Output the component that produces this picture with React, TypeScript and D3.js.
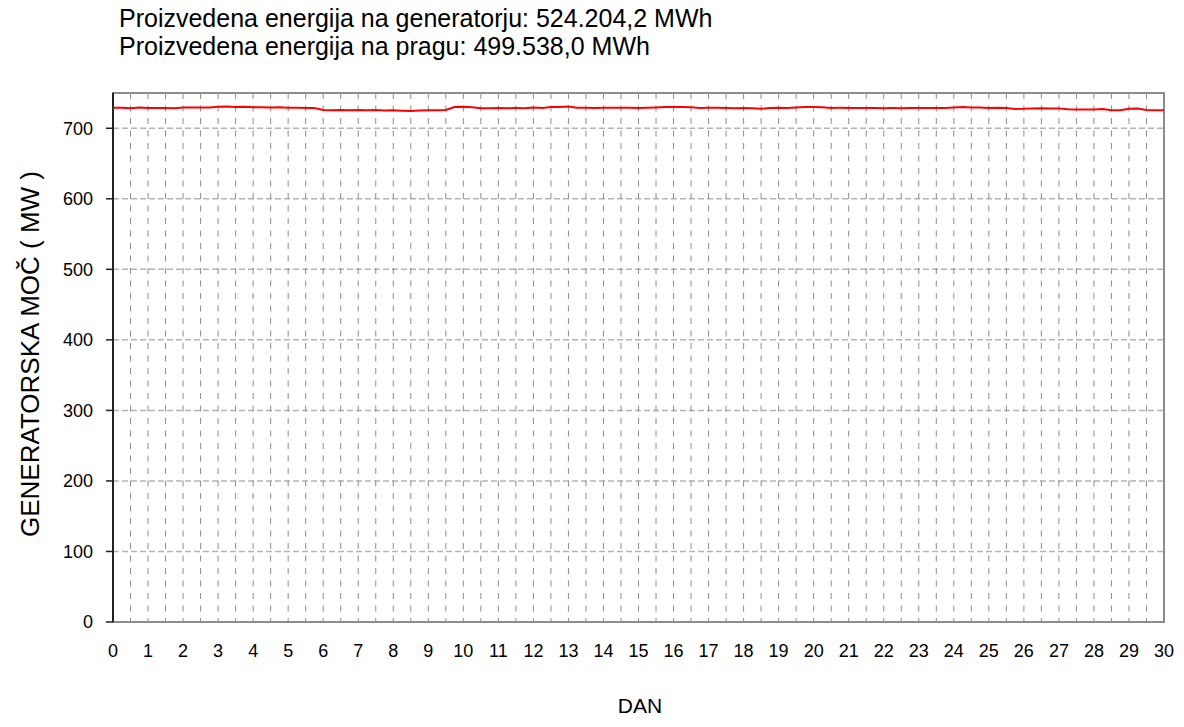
import React, { useEffect, useRef } from 'react'
import * as d3 from 'd3'

// text
const titleLines = [
  'Proizvedena energija na generatorju: 524.204,2 MWh',
  'Proizvedena energija na pragu: 499.538,0 MWh',
]
const yTitle = 'GENERATORSKA MOČ ( MW )'
const xTitle = 'DAN'

// axes
const yTicks = [0, 100, 200, 300, 400, 500, 600, 700]
const xTicks = d3.range(0, 31)

// generator power, one reading every 6 hours, day 0 .. day 30
const power = [
  729.0, 729.0, 728.4, 729.5, 728.9, 728.9, 728.6, 728.3, 729.5, 729.5,
  729.6, 729.4, 730.4, 730.8, 730.3, 730.6, 729.7, 729.8, 729.6, 729.7,
  729.0, 729.1, 728.9, 728.8, 726.0, 725.6, 725.9, 725.7, 725.8, 725.6,
  725.8, 725.3, 725.4, 725.0, 724.6, 725.3, 725.6, 725.7, 725.8, 730.0,
  730.5, 729.9, 728.5, 728.4, 728.6, 728.5, 728.6, 728.5, 729.5, 728.9,
  730.0, 730.3, 730.7, 729.0, 729.0, 728.9, 729.0, 729.0, 729.0, 729.0,
  728.8, 729.1, 729.6, 730.3, 730.0, 730.3, 729.8, 728.9, 729.0, 729.0,
  728.7, 728.5, 728.6, 728.4, 727.6, 728.6, 729.0, 728.8, 729.5, 730.0,
  730.3, 729.9, 728.9, 729.0, 728.9, 728.8, 728.7, 728.6, 728.5, 728.6,
  728.5, 728.7, 728.6, 728.8, 728.7, 728.9, 729.4, 730.1, 729.6, 729.5,
  728.9, 729.0, 728.6, 727.4, 727.6, 728.2, 728.3, 728.1, 728.2, 726.8,
  726.5, 726.6, 726.7, 727.4, 725.6, 725.4, 727.6, 727.9, 725.8, 725.4,
  725.6,
]

const W = 1184
const H = 727
const margin = { left: 113, right: 20, top: 93, bottom: 105 }
const font = 'Arial, "Liberation Sans", sans-serif'

export default function App() {
  const ref = useRef<SVGSVGElement>(null)

  useEffect(() => {
    const svg = d3.select(ref.current)
    svg.selectAll('*').remove()

    const x = d3.scaleLinear().domain([0, 30]).range([margin.left, W - margin.right])
    const y = d3.scaleLinear().domain([0, 750]).range([H - margin.bottom, margin.top])

    svg.append('rect').attr('width', W).attr('height', H).attr('fill', '#fff')

    // horizontal grid
    svg.append('g')
      .selectAll('line')
      .data(yTicks.slice(1))
      .enter()
      .append('line')
      .attr('x1', margin.left)
      .attr('x2', W - margin.right)
      .attr('y1', (d) => y(d))
      .attr('y2', (d) => y(d))
      .attr('stroke', '#b4b4b4')
      .attr('stroke-width', 1.5)
      .attr('stroke-dasharray', '6,3')

    // vertical grid every half day
    svg.append('g')
      .selectAll('line')
      .data(d3.range(1, 60).map((i) => i / 2))
      .enter()
      .append('line')
      .attr('x1', (d) => x(d))
      .attr('x2', (d) => x(d))
      .attr('y1', margin.top)
      .attr('y2', H - margin.bottom)
      .attr('stroke', '#8c8c8c')
      .attr('stroke-width', 1)
      .attr('stroke-dasharray', '6,6.5')

    // frame
    svg.append('rect')
      .attr('x', margin.left)
      .attr('y', margin.top)
      .attr('width', W - margin.right - margin.left)
      .attr('height', H - margin.bottom - margin.top)
      .attr('fill', 'none')
      .attr('stroke', '#8c8c8c')
      .attr('stroke-width', 2)

    // left axis
    svg.append('line')
      .attr('x1', margin.left).attr('x2', margin.left)
      .attr('y1', margin.top).attr('y2', H - margin.bottom)
      .attr('stroke', '#222').attr('stroke-width', 2)

    svg.append('g')
      .selectAll('line')
      .data(yTicks)
      .enter()
      .append('line')
      .attr('x1', margin.left - 7)
      .attr('x2', margin.left)
      .attr('y1', (d) => y(d))
      .attr('y2', (d) => y(d))
      .attr('stroke', '#222')
      .attr('stroke-width', 1.5)

    svg.append('g')
      .selectAll('text')
      .data(yTicks)
      .enter()
      .append('text')
      .attr('x', margin.left - 20)
      .attr('y', (d) => y(d))
      .attr('dy', '0.35em')
      .attr('text-anchor', 'end')
      .style('font-family', font)
      .style('font-size', '18px')
      .text((d) => d)

    svg.append('g')
      .selectAll('text')
      .data(xTicks)
      .enter()
      .append('text')
      .attr('x', (d) => x(d))
      .attr('y', H - margin.bottom + 35)
      .attr('text-anchor', 'middle')
      .style('font-family', font)
      .style('font-size', '18px')
      .text((d) => d)

    // the power curve
    const line = d3.line<number>()
      .x((d, i) => x(i / 4))
      .y((d) => y(d))

    svg.append('path')
      .datum(power)
      .attr('d', line)
      .attr('fill', 'none')
      .attr('stroke', '#ff0000')
      .attr('stroke-width', 2)

    // titles
    svg.append('g')
      .selectAll('text')
      .data(titleLines)
      .enter()
      .append('text')
      .attr('x', 119)
      .attr('y', (d, i) => 27 + i * 28)
      .style('font-family', font)
      .style('font-size', '25px')
      .text((d) => d)

    svg.append('text')
      .attr('transform', 'translate(39,354) rotate(-90)')
      .attr('text-anchor', 'middle')
      .style('font-family', font)
      .style('font-size', '26px')
      .text(yTitle)

    svg.append('text')
      .attr('x', 640)
      .attr('y', 713)
      .attr('text-anchor', 'middle')
      .style('font-family', font)
      .style('font-size', '21px')
      .text(xTitle)
  }, [])

  return (
    <div style={{ position: 'absolute', left: 0, top: 0 }}>
      <svg ref={ref} width={W} height={H} style={{ display: 'block' }} />
    </div>
  )
}
